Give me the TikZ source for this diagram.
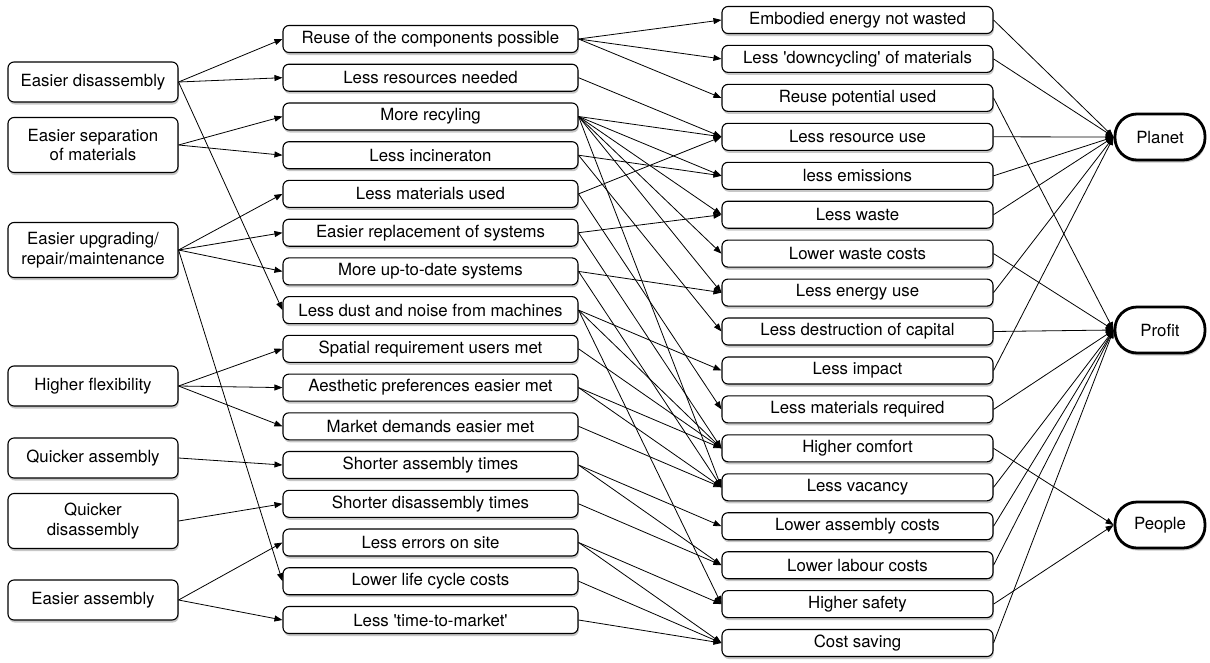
\documentclass[tikz,border=0pt]{standalone}
\usepackage{fontspec}
\setmainfont{TeX Gyre Heros}
\usetikzlibrary{arrows.meta,shadows}
\begin{document}
\begin{tikzpicture}[x=1pt,y=-1pt,
  base/.style={draw, line width=1.1pt, rounded corners=6pt, fill=white, align=center,
    inner sep=0pt, font=\fontsize{16.8}{19.5}\selectfont,
    drop shadow={shadow xshift=0.8pt, shadow yshift=-2.5pt, opacity=0.22, fill=black}},
  lbox/.style={base, minimum width=170pt, minimum height=40pt},
  lbox2/.style={base, minimum width=170pt, minimum height=55pt},
  mbox/.style={base, minimum width=295pt, minimum height=27pt},
  rbox/.style={base, minimum width=271pt, minimum height=27pt},
  pbox/.style={base, line width=2.8pt, rounded corners=22pt, minimum width=90pt, minimum height=46pt},
  arr/.style={line width=0.8pt, -{Triangle[length=8pt,width=6pt]}}
]
\fill[white] (0,0) rectangle (1210,662);
\useasboundingbox (0,0) rectangle (1210,662);

% column 1
\node[lbox]  (a1) at (93,82)  {Easier disassembly};
\node[lbox2] (a2) at (93,145) {Easier separation\\of materials};
\node[lbox2] (a3) at (93,250) {Easier upgrading/\\repair/maintenance};
\node[lbox]  (a4) at (93,386) {Higher flexibility};
\node[lbox]  (a5) at (93,458) {Quicker assembly};
\node[lbox2] (a6) at (93,521) {Quicker\\disassembly};
\node[lbox]  (a7) at (93,600) {Easier assembly};

% column 2
\node[mbox] (b1)  at (430.5,39.0)  {Reuse of the components possible};
\node[mbox] (b2)  at (430.5,77.7)  {Less resources needed};
\node[mbox] (b3)  at (430.5,116.5) {More recyling};
\node[mbox] (b4)  at (430.5,155.2) {Less incineraton};
\node[mbox] (b5)  at (430.5,193.9) {Less materials used};
\node[mbox] (b6)  at (430.5,232.7) {Easier replacement of systems};
\node[mbox] (b7)  at (430.5,271.4) {More up-to-date systems};
\node[mbox] (b8)  at (430.5,310.1) {Less dust and noise from machines};
\node[mbox] (b9)  at (430.5,348.8) {Spatial requirement users met};
\node[mbox] (b10) at (430.5,387.6) {Aesthetic preferences easier met};
\node[mbox] (b11) at (430.5,426.3) {Market demands easier met};
\node[mbox] (b12) at (430.5,465.0) {Shorter assembly times};
\node[mbox] (b13) at (430.5,503.8) {Shorter disassembly times};
\node[mbox] (b14) at (430.5,542.5) {Less errors on site};
\node[mbox] (b15) at (430.5,581.2) {Lower life cycle costs};
\node[mbox] (b16) at (430.5,620.0) {Less \textquotesingle time-to-market\textquotesingle};

% column 3
\node[rbox] (c1)  at (857.5,20.0)  {Embodied energy not wasted};
\node[rbox] (c2)  at (857.5,58.9)  {Less \textquotesingle downcycling\textquotesingle\ of materials};
\node[rbox] (c3)  at (857.5,97.9)  {Reuse potential used};
\node[rbox] (c4)  at (857.5,136.8) {Less resource use};
\node[rbox] (c5)  at (857.5,175.8) {less emissions};
\node[rbox] (c6)  at (857.5,214.7) {Less waste};
\node[rbox] (c7)  at (857.5,253.6) {Lower waste costs};
\node[rbox] (c8)  at (857.5,292.6) {Less energy use};
\node[rbox] (c9)  at (857.5,331.5) {Less destruction of capital};
\node[rbox] (c10) at (857.5,370.5) {Less impact};
\node[rbox] (c11) at (857.5,409.4) {Less materials required};
\node[rbox] (c12) at (857.5,448.3) {Higher comfort};
\node[rbox] (c13) at (857.5,487.3) {Less vacancy};
\node[rbox] (c14) at (857.5,526.2) {Lower assembly costs};
\node[rbox] (c15) at (857.5,565.2) {Lower labour costs};
\node[rbox] (c16) at (857.5,604.1) {Higher safety};
\node[rbox] (c17) at (857.5,643.0) {Cost saving};

% column 4
\node[pbox] (planet) at (1160,137) {Planet};
\node[pbox] (profit) at (1160,330) {Profit};
\node[pbox] (people) at (1160,525) {People};

% connectors column 1 -> 2
\foreach \s/\t in {a1/b1,a1/b2,a1/b8,a2/b3,a2/b4,a3/b5,a3/b6,a3/b7,a3/b15,
                   a4/b9,a4/b10,a4/b11,a5/b12,a6/b13,a7/b14,a7/b16}
  \draw[arr] (\s.east) -- (\t.west);

% connectors column 2 -> 3
\foreach \s/\t in {b1/c1,b1/c2,b1/c3,b2/c4,
                   b3/c4,b3/c5,b3/c6,b3/c7,b3/c8,b3/c13,
                   b4/c5,b4/c9,b5/c4,b5/c11,b6/c6,b6/c12,b7/c8,b7/c13,
                   b8/c10,b8/c12,b8/c16,b9/c12,b10/c12,b10/c13,b11/c13,
                   b12/c14,b12/c15,b13/c15,b14/c16,b14/c17,b15/c17,b16/c17}
  \draw[arr] (\s.east) -- (\t.west);

% connectors column 3 -> 4
\foreach \s/\t in {c1/planet,c2/planet,c4/planet,c5/planet,c6/planet,c8/planet,c10/planet,
                   c3/profit,c7/profit,c9/profit,c11/profit,c13/profit,c14/profit,c15/profit,c17/profit,
                   c12/people,c16/people}
  \draw[arr] (\s.east) -- (\t.west);
\end{tikzpicture}
\end{document}
